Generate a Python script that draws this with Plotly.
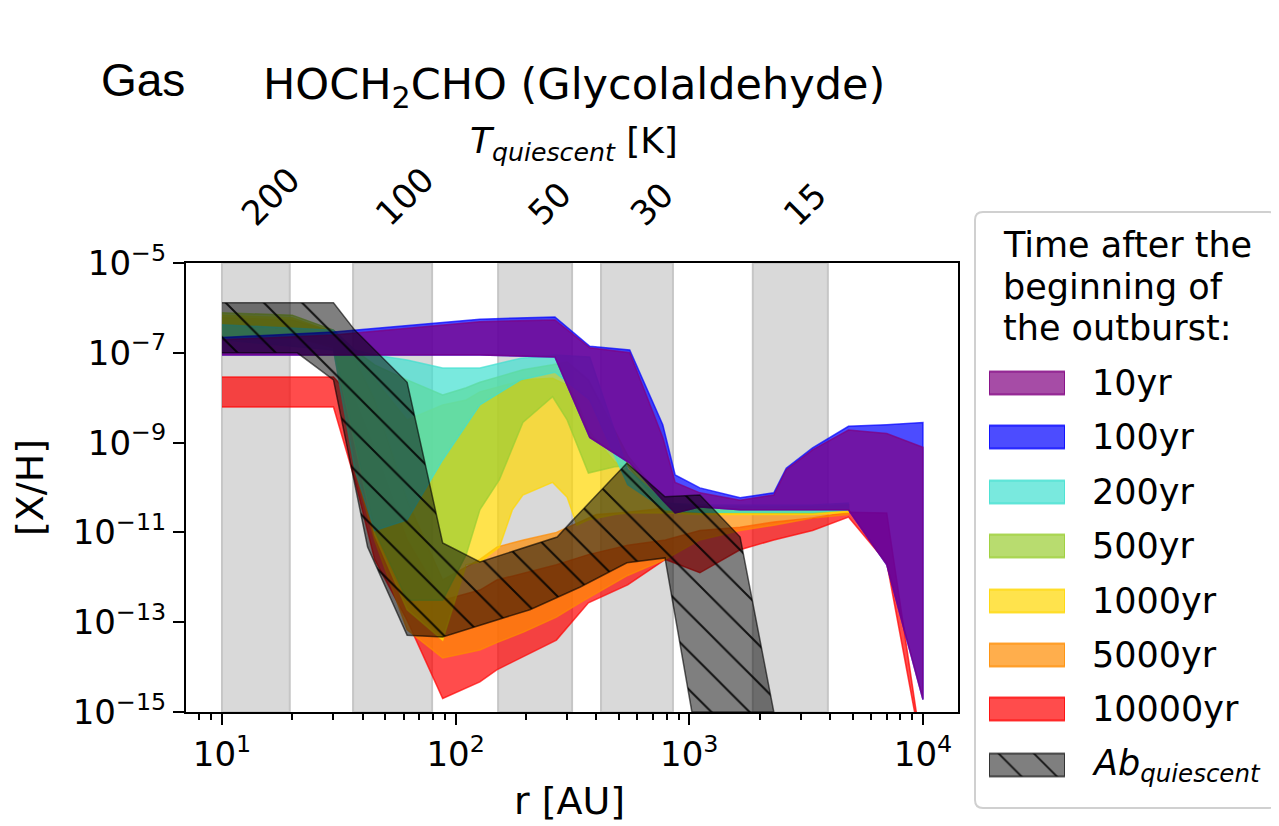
import math
import plotly.graph_objects as go

W, H = 1279, 826
OX, OY = 8, 8  # page offset of the figure inside the browser window

# ---------------- data: abundance bands [X/H] vs radius r [AU] ----------------
r_10yr = [10, 30, 127, 266, 375, 556, 770, 870, 1110, 1650, 2300, 2600, 3370, 4800, 7000, 10000]
hi_10yr = [1.95e-7, 2.5e-7, 4.9e-7, 5.4e-7, 1.3e-7, 1.0e-7, 1.3e-9, 1.3e-10, 7.6e-11, 5.2e-11,
           6.8e-11, 2.5e-10, 6.9e-10, 1.9e-9, 1.6e-9, 7.9e-10]
lo_10yr = [8.9e-8, 8.9e-8, 8.9e-8, 8.1e-8, 1.3e-9, 3.5e-10, 5.2e-11, 2.7e-11, 3.7e-11, 3.2e-11,
           3.2e-11, 3.2e-11, 3.2e-11, 3.2e-11, 1.9e-12, 1.9e-15]

r_100yr = [10, 30, 127, 266, 375, 556, 770, 870, 1110, 1650, 2300, 2600, 3370, 4800, 7000, 10000]
hi_100yr = [2.2e-7, 2.9e-7, 5.6e-7, 6.3e-7, 1.4e-7, 1.15e-7, 2.5e-9, 1.9e-10, 9.8e-11, 5.9e-11,
            7.6e-11, 2.7e-10, 7.6e-10, 2.3e-9, 2.5e-9, 2.8e-9]
lo_100yr = [8.9e-8, 8.9e-8, 8.9e-8, 8.1e-8, 1.3e-9, 3.5e-10, 5.2e-11, 2.7e-11, 3.7e-11, 3.2e-11,
            3.2e-11, 3.2e-11, 3.2e-11, 3.2e-11, 1.9e-12, 1.9e-15]

r_200yr = [10, 30, 37, 45, 62, 88, 127, 190, 266, 375, 545, 790, 1110, 1650, 2300, 3370, 4800]
hi_200yr = [4.2e-7, 3.2e-7, 1.15e-7, 8.9e-8, 6.9e-8, 4.6e-8, 4.6e-8, 7.6e-8, 8.9e-8, 8.1e-8,
            2.5e-10, 4.5e-11, 4.1e-11, 4.1e-11, 4.1e-11, 4.1e-11, 4.5e-11]
lo_200yr = [1.95e-7, 1.15e-7, 2.5e-10, 1.1e-11, 1.9e-11, 4.1e-10, 6.9e-9, 2.5e-8, 3.7e-8, 8.9e-9,
            1.15e-10, 3.2e-11, 2.8e-11, 2.8e-11, 2.8e-11, 2.8e-11, 3.2e-11]

r_500yr = [10, 20, 30, 37, 45, 62, 88, 111, 127, 154, 194, 260, 300, 370, 480, 545, 790, 1110,
           1650, 2300, 3370, 4800]
hi_500yr = [7.8e-7, 6.9e-7, 3.2e-7, 1.15e-7, 5.4e-8, 2.5e-8, 1.15e-8, 1.66e-8, 2.2e-8, 2.9e-8,
            4.2e-8, 5.4e-8, 6.3e-8, 2.5e-8, 1.9e-9, 5.2e-10, 4.5e-11, 3.7e-11, 3.7e-11, 3.7e-11,
            3.7e-11, 4.1e-11]
lo_500yr = [2.1e-7, 2.1e-7, 1.5e-7, 1.15e-9, 1.1e-11, 3.1e-13, 3.1e-13, 3.2e-12, 3.2e-11, 1.5e-10,
            2.8e-9, 1.05e-8, 3.2e-9, 2.1e-10, 2.9e-10, 3.0e-10, 2.8e-11, 2.7e-11, 2.7e-11, 2.7e-11,
            2.7e-11, 3.2e-11]

r_1000yr = [10, 20, 30, 37, 45, 62, 88, 111, 127, 154, 175, 194, 260, 300, 330, 370, 480, 545,
            790, 1110, 1650, 2300, 3370, 4800]
hi_1000yr = [6.9e-7, 6.0e-7, 2.9e-7, 8.9e-8, 2.5e-8, 3.2e-9, 6.9e-9, 8.9e-9, 1.35e-8, 1.75e-8,
             2.1e-8, 2.5e-8, 2.7e-8, 1.9e-8, 8.9e-9, 1.9e-9, 3.7e-10, 2.5e-10, 4.1e-11, 3.5e-11,
             3.5e-11, 3.5e-11, 3.5e-11, 3.8e-11]
lo_1000yr = [2.3e-7, 2.3e-7, 1.5e-7, 8.9e-10, 8.7e-12, 1.9e-13, 4e-14, 1.9e-12, 2.2e-12, 4.7e-12,
             3.2e-11, 6.8e-11, 1.3e-10, 6.1e-11, 1.45e-11, 1.9e-11, 2.5e-11, 2.7e-11, 2.7e-11,
             2.5e-11, 2.5e-11, 2.5e-11, 2.5e-11, 2.8e-11]

r_5000yr = [10, 20, 30, 37, 45, 62, 88, 127, 150, 195, 270, 340, 400, 545, 790, 1110, 1650, 2300,
            3370, 4800]
hi_5000yr = [6.0e-7, 5.4e-7, 2.9e-7, 6.9e-8, 8.9e-9, 5.2e-11, 8.7e-13, 2.5e-12, 4.7e-12, 6.8e-12,
             1.0e-11, 1.7e-11, 2.5e-11, 2.8e-11, 3.5e-11, 3.8e-11, 3.7e-11, 3.7e-11, 3.8e-11,
             4.1e-11]
lo_5000yr = [2.3e-7, 2.3e-7, 1.3e-7, 2.5e-10, 6.8e-12, 6.8e-14, 1.6e-14, 2.4e-14, 3.5e-14, 6.0e-14,
             1.3e-13, 2.7e-13, 4.5e-13, 1.1e-12, 2.5e-12, 6.8e-12, 1.1e-11, 1.45e-11, 2.1e-11,
             2.5e-11]

r_10000yr = [10, 30, 37, 45, 62, 88, 127, 150, 270, 370, 545, 790, 1110, 1650, 2300, 3370, 4800,
             7000, 10000]
hi_10000yr = [2.9e-8, 2.9e-8, 8.9e-9, 6.9e-10, 6.8e-12, 3.1e-13, 5.2e-13, 8.7e-13, 1.9e-12, 3.2e-12,
              5.2e-12, 6.8e-12, 1.1e-11, 1.3e-11, 1.7e-11, 2.1e-11, 2.8e-11, 2.7e-11, 1e-16]
lo_10000yr = [6.2e-9, 6.2e-9, 1.5e-10, 2.5e-12, 1.1e-13, 2.0e-15, 4.7e-15, 8.7e-15, 4e-14, 2.7e-13,
              6.8e-13, 2.5e-12, 1.26e-12, 4.1e-12, 6.8e-12, 1.1e-11, 2.2e-11, 2.1e-12, 1e-16]

# quiescent abundance (hatched band)
r_q_upper = [10, 30, 37, 62, 88, 127, 272, 318, 541, 787, 1110, 1650, 2300]
q_upper = [1.3e-6, 1.3e-6, 3.2e-7, 2.2e-8, 5.8e-12, 2.2e-12, 7.9e-12, 1.9e-11, 3.5e-10, 6.2e-11,
           6.8e-11, 7.9e-12, 1.0e-15]
r_q_lower = [10, 21, 30, 36, 42, 62, 88, 208, 340, 541, 787, 1026]
q_lower = [1.0e-7, 1.0e-7, 2.5e-8, 2.5e-10, 4.7e-12, 5.1e-14, 4.7e-14, 1.9e-13, 6.0e-13, 2.1e-12,
           2.7e-12, 1.0e-15]

# grey temperature bands (radius ranges, AU)
band_r0 = [10, 36.4, 152, 419, 1870]
band_r1 = [19.5, 79.3, 315, 851, 3917]

# top axis: quiescent temperature labels and their radii
T_labels = ["200", "100", "50", "30", "15"]
T_radius = [16.2, 60.7, 251, 690, 3125]

series = [
    ("10yr", r_10yr, hi_10yr, lo_10yr, (128, 0, 128)),
    ("100yr", r_100yr, hi_100yr, lo_100yr, (0, 0, 255)),
    ("200yr", r_200yr, hi_200yr, lo_200yr, (64, 224, 208)),
    ("500yr", r_500yr, hi_500yr, lo_500yr, (154, 205, 50)),
    ("1000yr", r_1000yr, hi_1000yr, lo_1000yr, (255, 215, 0)),
    ("5000yr", r_5000yr, hi_5000yr, lo_5000yr, (255, 140, 0)),
    ("10000yr", r_10000yr, hi_10000yr, lo_10000yr, (255, 0, 0)),
]

FONT = "DejaVu Sans"


def rgba(c, a):
    return f"rgba({c[0]},{c[1]},{c[2]},{a})"


def px_x(p):
    return (p - OX) / W


def px_y(p):
    return 1 - (p - OY) / H


fig = go.Figure()

# bands: last in the list drawn first (bottom)
for name, r, hi, lo, col in reversed(series):
    fig.add_trace(go.Scatter(
        x=list(r) + list(r)[::-1], y=list(hi) + list(lo)[::-1],
        fill="toself", fillcolor=rgba(col, 0.7), mode="lines",
        line=dict(color=rgba(col, 0.7), width=1.5), name=name,
        xaxis="x", yaxis="y", showlegend=False, hoverinfo="skip"))

# hatched quiescent band
fig.add_trace(go.Scatter(
    x=list(r_q_upper) + list(r_q_lower)[::-1], y=list(q_upper) + list(q_lower)[::-1],
    fill="toself", fillcolor="rgba(0,0,0,0.5)", mode="lines",
    line=dict(color="rgba(0,0,0,0.6)", width=1.5),
    fillpattern=dict(shape="\\", size=27, solidity=0.075, fgcolor="black", fgopacity=0.85,
                     fillmode="overlay"),
    name="Ab_quiescent", showlegend=False, hoverinfo="skip"))

# ---------------- custom legend (drawn in its own pixel-unit axes) ----------------
leg_labels = [s[0] for s in series] + ["<i>Ab</i><sub><i>quiescent</i></sub>"]
leg_rows = [383, 437, 492, 546, 601, 655, 709, 765]
sw_h = 11.5
for i, (name, r, hi, lo, col) in enumerate(series):
    c = leg_rows[i]
    fig.add_trace(go.Scatter(
        x=[0, 1, 1, 0, 0], y=[c - sw_h, c - sw_h, c + sw_h, c + sw_h, c - sw_h],
        fill="toself", fillcolor=rgba(col, 0.7), mode="lines",
        line=dict(color=rgba(col, 0.75), width=2), xaxis="x2", yaxis="y2",
        showlegend=False, hoverinfo="skip"))
c = leg_rows[-1]
fig.add_trace(go.Scatter(
    x=[0, 1, 1, 0, 0], y=[c - sw_h, c - sw_h, c + sw_h, c + sw_h, c - sw_h],
    fill="toself", fillcolor="rgba(0,0,0,0.5)", mode="lines",
    line=dict(color="rgba(0,0,0,0.6)", width=2),
    fillpattern=dict(shape="\\", size=25, solidity=0.075, fgcolor="black", fgopacity=0.85,
                     fillmode="overlay"),
    xaxis="x2", yaxis="y2", showlegend=False, hoverinfo="skip"))

shapes = []
for a, b in zip(band_r0, band_r1):
    shapes.append(dict(type="rect", xref="x", yref="y domain", x0=a, x1=b, y0=0, y1=1,
                       fillcolor="#d9d9d9", line=dict(color="#c6c6c6", width=2), layer="below"))

# legend frame (rounded)
lx0, lx1, ly0, ly1, rad = px_x(975), px_x(1277), px_y(212), px_y(808), 8
rx, ry = rad / W, rad / H
path = (f"M{lx0 + rx},{ly0} L{lx1 - rx},{ly0} Q{lx1},{ly0} {lx1},{ly0 - ry} "
        f"L{lx1},{ly1 + ry} Q{lx1},{ly1} {lx1 - rx},{ly1} L{lx0 + rx},{ly1} "
        f"Q{lx0},{ly1} {lx0},{ly1 + ry} L{lx0},{ly0 - ry} Q{lx0},{ly0} {lx0 + rx},{ly0} Z")
shapes.append(dict(type="path", xref="paper", yref="paper", path=path,
                   fillcolor="white", line=dict(color="#d0d0d0", width=2), layer="below"))

annotations = []
# titles
annotations.append(dict(text="Gas", x=px_x(99), y=px_y(80), xref="paper", yref="paper",
                        xanchor="left", yanchor="middle", showarrow=False,
                        font=dict(family="Liberation Sans", size=46, color="black")))
annotations.append(dict(text="HOCH<sub>2</sub>CHO (Glycolaldehyde)", x=px_x(261), y=px_y(87),
                        xref="paper", yref="paper", xanchor="left", yanchor="middle",
                        showarrow=False, font=dict(family=FONT, size=43, color="black")))
annotations.append(dict(text="<i>T</i><sub><i>quiescent</i></sub> [K]", x=px_x(574), y=px_y(143),
                        xref="paper", yref="paper", xanchor="center", yanchor="middle",
                        showarrow=False, font=dict(family=FONT, size=36, color="black")))
for lab, rr in zip(T_labels, T_radius):
    annotations.append(dict(text=lab, x=math.log10(rr), xref="x", y=px_y(236), yref="paper",
                            xanchor="center", yanchor="bottom", textangle=-45, showarrow=False,
                            font=dict(family=FONT, size=34, color="black")))
# axis titles
annotations.append(dict(text="r [AU]", x=px_x(569), y=px_y(801), xref="paper", yref="paper",
                        xanchor="center", yanchor="middle", showarrow=False,
                        font=dict(family=FONT, size=38, color="black")))
annotations.append(dict(text="[X/H]", x=px_x(30), y=px_y(487), xref="paper", yref="paper",
                        xanchor="center", yanchor="middle", textangle=-90, showarrow=False,
                        font=dict(family=FONT, size=38, color="black")))
# legend texts
leg_title = ["Time after the", "beginning of", "the outburst:"]
for i, t in enumerate(leg_title):
    annotations.append(dict(text=t, x=px_x(1001), y=px_y(245 + 41.5 * i), xref="paper",
                            yref="paper", xanchor="left", yanchor="middle", showarrow=False,
                            font=dict(family=FONT, size=35, color="black")))
for lab, c in zip(leg_labels, leg_rows):
    annotations.append(dict(text=lab, x=px_x(1090), y=px_y(c), xref="paper", yref="paper",
                            xanchor="left", yanchor="middle", showarrow=False,
                            font=dict(family=FONT, size=35, color="black")))

x_major = [10, 100, 1000, 10000]
x_minor = [m * d for d in (1, 10, 100, 1000) for m in range(2, 10)]
y_major = [1e-15, 1e-13, 1e-11, 1e-9, 1e-7, 1e-5]

fig.update_layout(
    width=W, height=H,
    margin=dict(l=0, r=0, t=0, b=0, autoexpand=False),
    paper_bgcolor="white", plot_bgcolor="rgba(0,0,0,0)",
    showlegend=False,
    shapes=shapes, annotations=annotations,
    font=dict(family=FONT, color="black"),
    xaxis=dict(type="log", domain=[(186 - OX) / W, (958 - OX) / W], range=[0.846, 4.15],
               anchor="y", automargin=False,
               showline=True, linecolor="black", linewidth=2, mirror=True,
               ticks="outside", ticklen=11, tickwidth=2, tickcolor="black",
               tickvals=x_major, ticktext=[f"10<sup>{k}</sup>" for k in (1, 2, 3, 4)],
               tickfont=dict(family=FONT, size=34, color="black"),
               minor=dict(tickvals=x_minor, ticks="outside", ticklen=6, tickwidth=1.5,
                          tickcolor="black", showgrid=False),
               showgrid=False, zeroline=False),
    yaxis=dict(type="log", domain=[1 - (712 - OY) / H, 1 - (263 - OY) / H], range=[-15, -5],
               anchor="x", automargin=False,
               showline=True, linecolor="black", linewidth=2, mirror=True,
               ticks="outside", ticklen=11, tickwidth=2, tickcolor="black",
               tickvals=y_major, ticktext=[f"10<sup>−{k}</sup>" for k in (15, 13, 11, 9, 7, 5)],
               tickfont=dict(family=FONT, size=34, color="black"),
               showgrid=False, zeroline=False),
    xaxis2=dict(domain=[(989 - OX) / W, (1065 - OX) / W], range=[0, 1], anchor="y2",
                visible=False, fixedrange=True, automargin=False),
    yaxis2=dict(domain=[1 - (795 - OY) / H, 1 - (355 - OY) / H], range=[795, 355], anchor="x2",
                visible=False, fixedrange=True, automargin=False),
)

fig.write_html("out.html")
